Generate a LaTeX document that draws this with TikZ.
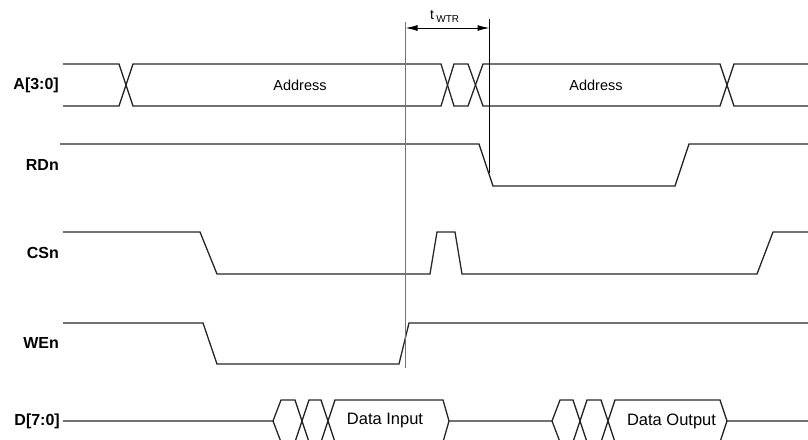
\documentclass[tikz,border=0pt]{standalone}
\usepackage{fontspec}
\setmainfont{Liberation Sans}
\usetikzlibrary{arrows.meta}
\begin{document}
\begin{tikzpicture}[x=1pt,y=-1pt,
  wave/.style={line width=1.3pt,line join=miter,black!85},
  siglabel/.style={anchor=east,inner sep=0pt,font=\fontsize{16}{18}\selectfont\bfseries},
  buslabel/.style={inner sep=0pt,font=\fontsize{14.5}{17}\selectfont},
  datalabel/.style={inner sep=0pt,font=\fontsize{16.5}{19}\selectfont},
  marker/.style={line width=1.3pt}]
\useasboundingbox (0,0) rectangle (808,439);
\clip (0,0) rectangle (808,439);
% signal labels
\node[siglabel] (la) at (59,85) {A[3:0]};
\node[siglabel] (lr) at (59,165) {RDn};
\node[siglabel] (lc) at (59,253) {CSn};
\node[siglabel] (lw) at (59,343) {WEn};
\node[siglabel] (ld) at (60,421) {D[7:0]};
% A bus
\draw[wave] (63,64) -- (119,64) -- (133,106) -- (441,106) -- (454,64) -- (468,64) -- (483,106) -- (720,106) -- (734,64) -- (808,64);
\draw[wave] (63,106) -- (119,106) -- (133,64) -- (441,64) -- (454,106) -- (468,106) -- (483,64) -- (720,64) -- (734,106) -- (808,106);
\node[buslabel] (ad1) at (300,85) {Address};
\node[buslabel] (ad2) at (596,85) {Address};
% RDn
\draw[wave] (60,144) -- (479,144) -- (493,186) -- (675,186) -- (689,144) -- (808,144);
% CSn
\draw[wave] (63,232) -- (200,232) -- (217,274) -- (430,274) -- (437,232) -- (455,232) -- (462,274) -- (757,274) -- (773,232) -- (808,232);
% WEn
\draw[wave] (63,323) -- (203,323) -- (217,364) -- (399,364) -- (409,323) -- (808,323);
% D bus
\draw[wave] (63,421) -- (273,421) -- (281,400) -- (295,400) -- (309,442) -- (321,442) -- (335,400) -- (443,400) -- (449,421)
  -- (552,421) -- (560,400) -- (573,400) -- (587,442) -- (601,442) -- (615,400) -- (720,400) -- (727,421) -- (808,421);
\draw[wave] (273,421) -- (281,442) -- (295,442) -- (309,400) -- (321,400) -- (335,442) -- (443,442) -- (449,421);
\draw[wave] (552,421) -- (560,442) -- (573,442) -- (587,400) -- (601,400) -- (615,442) -- (720,442) -- (727,421);
\node[datalabel] (din) at (385,421) {Data Input};
\node[datalabel] (dout) at (671.5,421) {Data Output};
% timing markers
\coordinate (g1) at (405.5,22);
\coordinate (g2) at (405.5,368);
\coordinate (k1) at (489.5,19);
\coordinate (k2) at (489.5,173);
\coordinate (wl) at (405.5,28);
\coordinate (wr) at (489.5,28);
\draw[marker,black!55] (g1) -- (g2);
\draw[marker,black] (k1) -- (k2);
\draw[line width=1pt,{Latex[length=12pt,width=6pt]}-{Latex[length=12pt,width=6pt]}] (wl) -- (wr);
\node[inner sep=0pt,anchor=base west,font=\fontsize{14}{16}\selectfont] (tt) at (430,19) {t\,\fontsize{10}{12}\selectfont\raisebox{-4pt}{WTR}};
\end{tikzpicture}
\end{document}
